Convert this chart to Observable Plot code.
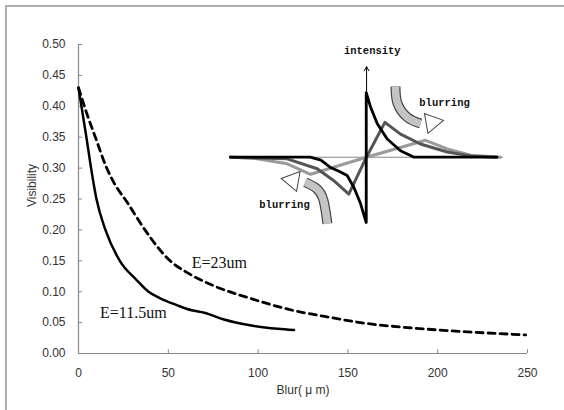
<!DOCTYPE html>
<html>
<head>
<meta charset="utf-8">
<script src="https://cdn.jsdelivr.net/npm/d3@7"></script>
<script src="https://cdn.jsdelivr.net/npm/@observablehq/plot@0.6"></script>
<style>
  html, body { margin: 0; padding: 0; background: #fff; }
  #wrap { position: relative; width: 564px; height: 410px; overflow: hidden; }
  #border { position: absolute; left: 5px; top: 5px; width: 600px; height: 450px;
            border-top: 2px solid #b0b0b0; border-left: 2px solid #b0b0b0; pointer-events: none; }
</style>
</head>
<body>
<div id="wrap"><div id="border"></div></div>
<script>
// ---- main curves (Blur in µm, Visibility) ----
const blurSolid = [0, 4.4, 7, 10, 15, 23, 32, 39, 45, 55, 63, 70, 81, 97, 111, 120];
const visSolid  = [0.43, 0.35, 0.30, 0.25, 0.20, 0.15, 0.12, 0.10, 0.09, 0.078, 0.07, 0.066, 0.055, 0.045, 0.04, 0.038];
const blurDashed = [0, 5, 10, 15, 20, 27, 37, 51, 61, 75, 97, 119, 137, 157, 187, 217, 249];
const visDashed  = [0.43, 0.385, 0.345, 0.305, 0.275, 0.245, 0.20, 0.15, 0.13, 0.11, 0.088, 0.07, 0.06, 0.05, 0.041, 0.035, 0.03];
const xTicks = [0, 50, 100, 150, 200, 250];
const yTicks = [0, 0.05, 0.10, 0.15, 0.20, 0.25, 0.30, 0.35, 0.40, 0.45, 0.50];
const seriesNames = ["E=23um", "E=11.5um"];
const seriesLabelX = [63, 12];
const seriesLabelY = [0.146, 0.0657];

// ---- inset schematic (drawn in the chart's own coordinates) ----
const insetBase = 0.3176;
const insetXRange = [84.6, 236.6];
const insetAxisX = 160.4;
const insetAxisY = [0.212, 0.464];
const edgeBlackX = [84.6, 129, 135, 140.3, 145, 149.6, 153.3, 157, 160.2, 160.2, 162.6, 166.3, 171.9, 179.3, 186.6, 233];
const edgeBlackY = [0.3176, 0.3176, 0.313, 0.301, 0.295, 0.288, 0.269, 0.243, 0.212, 0.422, 0.399, 0.372, 0.347, 0.328, 0.318, 0.3176];
const edgeMidX = [84.6, 116.2, 132.9, 142, 150.5, 160.3, 170.6, 179.3, 190.4, 205.3, 220, 233];
const edgeMidY = [0.3176, 0.315, 0.299, 0.28, 0.258, 0.3176, 0.374, 0.355, 0.339, 0.326, 0.319, 0.3176];
const edgeLightX = [84.6, 97.6, 116.2, 129.2, 160.3, 193.2, 205.3, 218.3, 235];
const edgeLightY = [0.3176, 0.316, 0.307, 0.290, 0.3176, 0.345, 0.331, 0.321, 0.3176];
const arrowUpX = [176.5, 177.6, 183.2, 190.5];
const arrowUpY = [0.432, 0.405, 0.382, 0.372];
const arrowDownX = [138.6, 136.4, 132.5, 126.3];
const arrowDownY = [0.210, 0.248, 0.267, 0.277];
const arrowHeadX = [196.8, 119.2];
const arrowHeadY = [0.374, 0.280];
const arrowHeadRotate = [80, -80];
const insetTexts = ["intensity", "blurring", "blurring"];
const insetTextX = [163.6, 203.8, 114.7];
const insetTextY = [0.490, 0.406, 0.241];

const zip = (xs, ys) => xs.map((x, i) => ({x, y: ys[i]}));
const solid = zip(blurSolid, visSolid);
const dashed = zip(blurDashed, visDashed);
const seriesLabels = seriesNames.map((t, i) => ({t, x: seriesLabelX[i], y: seriesLabelY[i]}));
const heads = arrowHeadX.map((x, i) => ({x, y: arrowHeadY[i], r: arrowHeadRotate[i]}));
const insetLabels = insetTexts.map((t, i) => ({t, x: insetTextX[i], y: insetTextY[i]}));

const chart = Plot.plot({
  width: 564, height: 410,
  marginLeft: 78, marginRight: 37, marginTop: 44, marginBottom: 57,
  style: {fontFamily: "Liberation Sans, Arial, sans-serif", background: "white", overflow: "visible"},
  x: {domain: [0, 250]},
  y: {domain: [0, 0.5]},
  marks: [
    Plot.axisX({ticks: xTicks, tickSize: 0, tickPadding: 15, tickFormat: d3.format("d"), fontSize: 12, color: "#333", label: null}),
    Plot.axisY({ticks: yTicks, tickSize: 0, tickPadding: 13, tickFormat: d3.format(".2f"), fontSize: 12, color: "#333", label: null}),
    Plot.ruleY([0], {stroke: "#888", strokeWidth: 1.2}),
    Plot.ruleX([0], {stroke: "#888", strokeWidth: 1.2}),
    Plot.ruleY(yTicks, {x1: 0, x2: 2.3, stroke: "#888"}),
    Plot.ruleX(xTicks, {y1: 0, y2: 0.006, stroke: "#888"}),
    Plot.text(["Blur( μ m)"], {frameAnchor: "bottom", dy: 40, fontSize: 12, fill: "#333"}),
    Plot.text(["Visibility"], {frameAnchor: "left", dx: -46, dy: 8, rotate: -90, fontSize: 12, fill: "#333"}),

    // main series
    Plot.line(dashed, {x: "x", y: "y", stroke: "black", strokeWidth: 2.8, strokeDasharray: "7,5", curve: "monotone-x"}),
    Plot.line(solid, {x: "x", y: "y", stroke: "black", strokeWidth: 2.5, curve: "monotone-x"}),
    Plot.text(seriesLabels, {x: "x", y: "y", text: "t", textAnchor: "start", fontFamily: "Liberation Serif, Times New Roman, serif", fontSize: 16, fill: "#111"}),

    // inset
    Plot.ruleY([insetBase], {x1: insetXRange[0], x2: insetXRange[1], stroke: "#888", strokeWidth: 1}),
    Plot.line(zip(edgeLightX, edgeLightY), {x: "x", y: "y", stroke: "#9a9a9a", strokeWidth: 3}),
    Plot.line(zip(edgeMidX, edgeMidY), {x: "x", y: "y", stroke: "#555", strokeWidth: 3}),
    Plot.line(zip(edgeBlackX, edgeBlackY), {x: "x", y: "y", stroke: "black", strokeWidth: 2.8}),
    Plot.arrow([0], {x1: insetAxisX, x2: insetAxisX, y1: insetAxisY[0], y2: insetAxisY[1], stroke: "black", strokeWidth: 1, headLength: 7}),
    Plot.line(zip(arrowUpX, arrowUpY), {x: "x", y: "y", stroke: "#444", strokeWidth: 10, curve: "natural", strokeLinecap: "butt"}),
    Plot.line(zip(arrowUpX, arrowUpY), {x: "x", y: "y", stroke: "#c4c4c4", strokeWidth: 7.6, curve: "natural", strokeLinecap: "butt"}),
    Plot.line(zip(arrowDownX, arrowDownY), {x: "x", y: "y", stroke: "#444", strokeWidth: 10, curve: "natural", strokeLinecap: "butt"}),
    Plot.line(zip(arrowDownX, arrowDownY), {x: "x", y: "y", stroke: "#c4c4c4", strokeWidth: 7.6, curve: "natural", strokeLinecap: "butt"}),
    Plot.dot(heads, {x: "x", y: "y", rotate: "r", symbol: "triangle", r: 7.5, fill: "white", stroke: "#444", strokeWidth: 1}),
    Plot.text(insetLabels, {x: "x", y: "y", text: "t", fontFamily: "Liberation Mono, DejaVu Sans Mono, monospace", fontWeight: "bold", fontSize: 10.5, fill: "#111"})
  ]
});
document.getElementById("wrap").prepend(chart);
</script>
</body>
</html>
